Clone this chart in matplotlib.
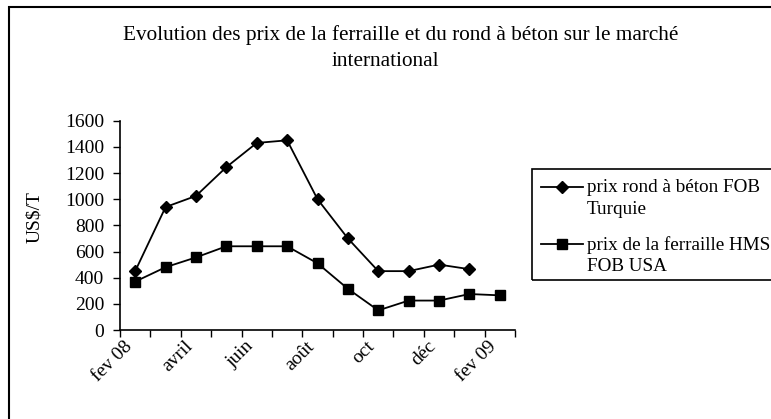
import matplotlib
matplotlib.use("Agg")
import matplotlib.pyplot as plt
import matplotlib.transforms as mtransforms
from matplotlib.lines import Line2D
from matplotlib.patches import Rectangle
from matplotlib.ticker import FixedLocator

plt.rcParams['font.family'] = ['Liberation Serif', 'DejaVu Serif']

months = ["fev 08", "mars", "avril", "mai", "juin", "juil", "août", "sept",
          "oct", "nov", "déc", "jan", "fev 09"]
rond_beton = [450, 940, 1025, 1245, 1430, 1450, 1000, 700, 450, 450, 500, 465]
ferraille = [370, 480, 555, 640, 640, 640, 510, 315, 150, 225, 225, 275, 265]
yticks = [0, 200, 400, 600, 800, 1000, 1200, 1400, 1600]
label_rond = "prix rond à béton FOB\nTurquie"
label_ferr = "prix de la ferraille HMS\nFOB USA"
title_l1 = "Evolution des prix de la ferraille et du rond à béton sur le marché"
title_l2 = "international"

W, H = 771, 419
fig = plt.figure(figsize=(W / 100, H / 100), dpi=100)

def fx(px):
    return px / W

def fy(py):
    return 1 - py / H

# outer border (clipped on right/bottom as in reference)
fig.add_artist(Rectangle((fx(8.5), fy(430)), fx(800), fy(7.5) - fy(430),
                         transform=fig.transFigure, fill=False,
                         edgecolor='black', linewidth=1.5))

left, right, top, bottom = 120, 515, 120.7, 330
ax = fig.add_axes([fx(left), fy(bottom), fx(right - left), fy(top) - fy(bottom)])

xs = list(range(len(months)))
ax.plot(xs[:len(rond_beton)], rond_beton, color='black', lw=1.3,
        marker='D', markersize=6, markerfacecolor='black', markeredgecolor='black')
ax.plot(xs, ferraille, color='black', lw=1.3,
        marker='s', markersize=7.5, markerfacecolor='black', markeredgecolor='black')

ax.set_xlim(-0.5, len(months) - 0.5)
ax.set_ylim(0, 1600)
ax.set_yticks(yticks)
ax.set_yticklabels([str(v) for v in yticks], fontsize=14)
ax.tick_params(axis='y', direction='out', length=5, width=1, pad=6.5)

ax.xaxis.set_major_locator(FixedLocator(xs[::2]))
ax.set_xticklabels(months[::2], fontsize=14, rotation=45, ha='right',
                   rotation_mode='anchor', va='center')
ax.xaxis.set_minor_locator(FixedLocator([i - 0.5 for i in range(len(months) + 1)]))
ax.tick_params(axis='x', which='major', length=0, pad=10)
ax.tick_params(axis='x', which='minor', direction='out', length=5, width=1)
shift = mtransforms.ScaledTranslation(-6 / 100, 0, fig.dpi_scale_trans)
for lbl in ax.get_xticklabels():
    lbl.set_transform(lbl.get_transform() + shift)

for s in ['top', 'right']:
    ax.spines[s].set_visible(False)
for s in ['left', 'bottom']:
    ax.spines[s].set_linewidth(1.2)

ax.set_ylabel("US$/T", fontsize=14)
ax.yaxis.set_label_coords((43 - left) / (right - left), 0.54)

fig.text(fx(401), fy(35), title_l1, ha='center', va='center', fontsize=15.3)
fig.text(fx(385), fy(62), title_l2, ha='center', va='center', fontsize=15.3)

# legend box
fig.add_artist(Rectangle((fx(532), fy(280)), fx(300), fy(169) - fy(280),
                         transform=fig.transFigure, fill=False,
                         edgecolor='black', linewidth=1.2))
for ypix, mk, ms, lab in [(187, 'D', 6, label_rond), (244, 's', 7.5, label_ferr)]:
    fig.add_artist(Line2D([fx(541), fx(583)], [fy(ypix), fy(ypix)],
                          transform=fig.transFigure, color='black', lw=1.3))
    fig.add_artist(Line2D([fx(562)], [fy(ypix)], transform=fig.transFigure,
                          marker=mk, markersize=ms, color='black'))
    fig.text(fx(587), fy(ypix - 8), lab, ha='left', va='top', fontsize=13.8,
             linespacing=1.35, transform=fig.transFigure)

fig.savefig("out.png", dpi=100)
